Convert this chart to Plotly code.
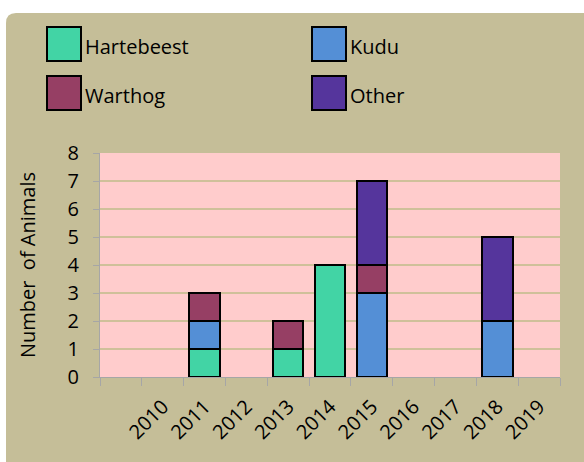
import plotly.graph_objects as go

# ---- data ----
years = ["2010", "2011", "2012", "2013", "2014", "2015", "2016", "2017", "2018", "2019"]
hartebeest = [None, 1, None, 1, 4, None, None, None, None, None]
kudu = [None, 1, None, None, None, 3, None, None, 2, None]
warthog = [None, 1, None, 1, None, 1, None, None, None, None]
other = [None, None, None, None, None, 3, None, None, 3, None]
series_names = ["Hartebeest", "Kudu", "Warthog", "Other"]
series_colors = ["#42D4A5", "#548FD6", "#963F64", "#55359C"]
y_ticks = [0, 1, 2, 3, 4, 5, 6, 7, 8]

BLANK = " "
cats = [BLANK] + years
W, H = 584, 462
ML, MR, MT, MB = 100, 24, 153, 85
PW, PH = W - ML - MR, H - MT - MB

FONT = "Open Sans"
FS = 20


def px_x(x):
    return (x - ML) / PW


def px_y(y):
    return (H - MB - y) / PH


fig = go.Figure()
for name, vals, col in zip(series_names, [hartebeest, kudu, warthog, other], series_colors):
    fig.add_trace(go.Bar(
        x=cats, y=[None] + vals, name=name,
        marker=dict(color=col, line=dict(color="black", width=2)),
        showlegend=False,
    ))

# panel with rounded top-left corner
r = 10
x0, y0, x1, y1 = 6, 13, W + 2, H + 2
path = (f"M {px_x(x0)},{px_y(y0 + r)} Q {px_x(x0)},{px_y(y0)} {px_x(x0 + r)},{px_y(y0)} "
        f"L {px_x(x1)},{px_y(y0)} L {px_x(x1)},{px_y(y1)} L {px_x(x0)},{px_y(y1)} Z")
shapes = [
    dict(type="path", xref="paper", yref="paper", path=path,
         fillcolor="#C5BE98", line=dict(width=0), layer="below"),
    dict(type="rect", xref="paper", yref="paper", x0=0, x1=1, y0=0, y1=1,
         fillcolor="#FFCCCC", line=dict(width=0), layer="below"),
]
annotations = []
legend_pos = [(47, 27), (312, 27), (47, 76), (312, 76)]
for (lx, ly), name, col in zip(legend_pos, series_names, series_colors):
    shapes.append(dict(type="rect", xref="paper", yref="paper",
                       x0=px_x(lx), x1=px_x(lx + 34), y0=px_y(ly), y1=px_y(ly + 34),
                       fillcolor=col, line=dict(color="black", width=2), layer="above"))
    annotations.append(dict(xref="paper", yref="paper", x=px_x(lx + 36), y=px_y(ly + 19),
                            text=name, showarrow=False, xanchor="left", yanchor="middle",
                            font=dict(family=FONT, size=FS, color="black")))

fig.update_layout(
    width=W, height=H,
    margin=dict(l=ML, r=MR, t=MT, b=MB, autoexpand=False),
    barmode="stack", bargap=0.27,
    paper_bgcolor="white", plot_bgcolor="rgba(0,0,0,0)",
    shapes=shapes, annotations=annotations,
    font=dict(family=FONT, size=FS, color="black"),
    xaxis=dict(type="category", categoryorder="array", categoryarray=cats,
               range=[-0.5, len(cats) - 0.5], automargin=False,
               tickson="boundaries", ticks="outside", ticklen=8, tickcolor="#A6A6A6",
               showline=True, linecolor="#A6A6A6", linewidth=1, showgrid=False,
               tickangle=-45, tickfont=dict(size=FS), ticklabelstandoff=9),
    yaxis=dict(range=[0, 8], tickvals=y_ticks, ticks="outside", ticklen=6, tickcolor="#A6A6A6",
               showline=True, linecolor="#A6A6A6", linewidth=1, automargin=False,
               showgrid=True, gridcolor="#CFC09A", gridwidth=1.5, zeroline=False,
               ticklabelstandoff=10, tickfont=dict(size=FS),
               title=dict(text="Number&nbsp; of Animals", font=dict(size=FS), standoff=26)),
)

fig.write_html("out.html", config={"displayModeBar": False},
               post_script="document.body.style.margin='0px';")
